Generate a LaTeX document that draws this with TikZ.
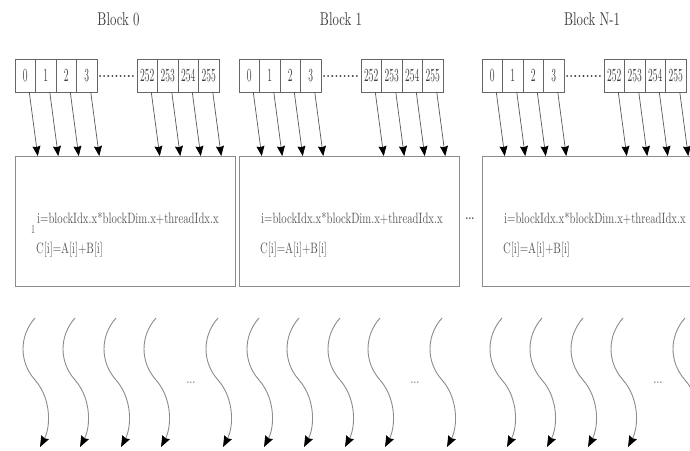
\documentclass[tikz,border=0pt]{standalone}
\usepackage{graphicx}
\usetikzlibrary{arrows.meta}
\begin{document}
\begin{tikzpicture}[x=1pt,y=-1pt,
  lbl/.style={inner sep=0pt,text=black!75},
  cell/.style={draw=black!60,line width=0.6pt,minimum width=20.5pt,minimum height=33pt,inner sep=0pt,outer sep=0pt,text=black!75},
  blockbox/.style={draw=black!45,line width=0.8pt,minimum width=220pt,minimum height=130pt,inner sep=0pt,outer sep=0pt},
  code/.style={inner sep=0pt,text=black!65,anchor=west},
  dotline/.style={draw=black!75,line width=2pt,dash pattern=on 0.1pt off 4pt,line cap=round,shorten <=3pt,shorten >=3pt},
  arr/.style={draw=black!65,line width=0.7pt,-{Stealth[length=10pt,width=8pt,inset=1.2pt,color=black]}},
  wave/.style={draw=black!45,line width=0.9pt,-{Stealth[length=11pt,width=8.5pt,inset=1.2pt,color=black]}},
  wdots/.style={inner sep=0pt,text=black!45}]
\useasboundingbox (0,0) rectangle (690,450);
\clip (0,0) rectangle (690,450);
\fill[white] (0,0) rectangle (690,450);
\foreach \b/\L/\lab/\lx in {0/15/Block 0/118.5, 1/239/Block 1/341, 2/482/Block N-1/592}{
  \node[lbl] (lab\b) at (\lx,19) {\scalebox{1.28}[1.85]{\lab}};
  \foreach \k/\t in {0/0,1/1,2/2,3/3}
    \node[cell] (c\b\k) at ({\L+10.25+20.5*\k},75.5) {\scalebox{0.95}[1.85]{\t}};
  \foreach \k/\t in {4/252,5/253,6/254,7/255}
    \node[cell] (c\b\k) at ({\L+122+10.25+20.5*(\k-4)},75.5) {\scalebox{0.95}[1.85]{\t}};
  \draw[dotline] (c\b3.east) -- (c\b4.west);
  \node[blockbox] (box\b) at ({\L+110},221) {};
  \foreach \k in {0,...,7}{
    \coordinate (e\b\k) at ([xshift=12.5pt]c\b\k.south |- box\b.north);
    \draw[arr] ([xshift=4pt]c\b\k.south) -- (e\b\k);
  }
  \node[code] (ci\b) at ({\L+22},218) {\scalebox{1.07}[1.5]{i=blockIdx.x*blockDim.x+threadIdx.x}};
  \node[code] (cc\b) at ({\L+21},250) {\scalebox{1.07}[1.5]{C[i]=A[i]+B[i]}};
  \foreach \w in {20,60,101,141,203}{
    \coordinate (ws\b\w) at ({\L+\w},318);
    \coordinate (wm\b\w) at ({\L+\w},380);
    \coordinate (we\b\w) at ({\L+\w+5},447);
    \draw[wave] (ws\b\w) .. controls +(-16,18) and +(-16,-18) .. (wm\b\w)
                         .. controls +(16,18) and +(11,-21) .. (we\b\w);
  }
  \node[wdots] (wd\b) at ({\L+176},383) {\scalebox{1.5}[1.5]{\dots}};
}
\node[lbl] (gap) at (470,219) {\scalebox{1.5}[1.6]{\dots}};
\node[lbl,text=black!65] (one) at (33,229) {\scalebox{0.8}[1.2]{1}};
\end{tikzpicture}
\end{document}
